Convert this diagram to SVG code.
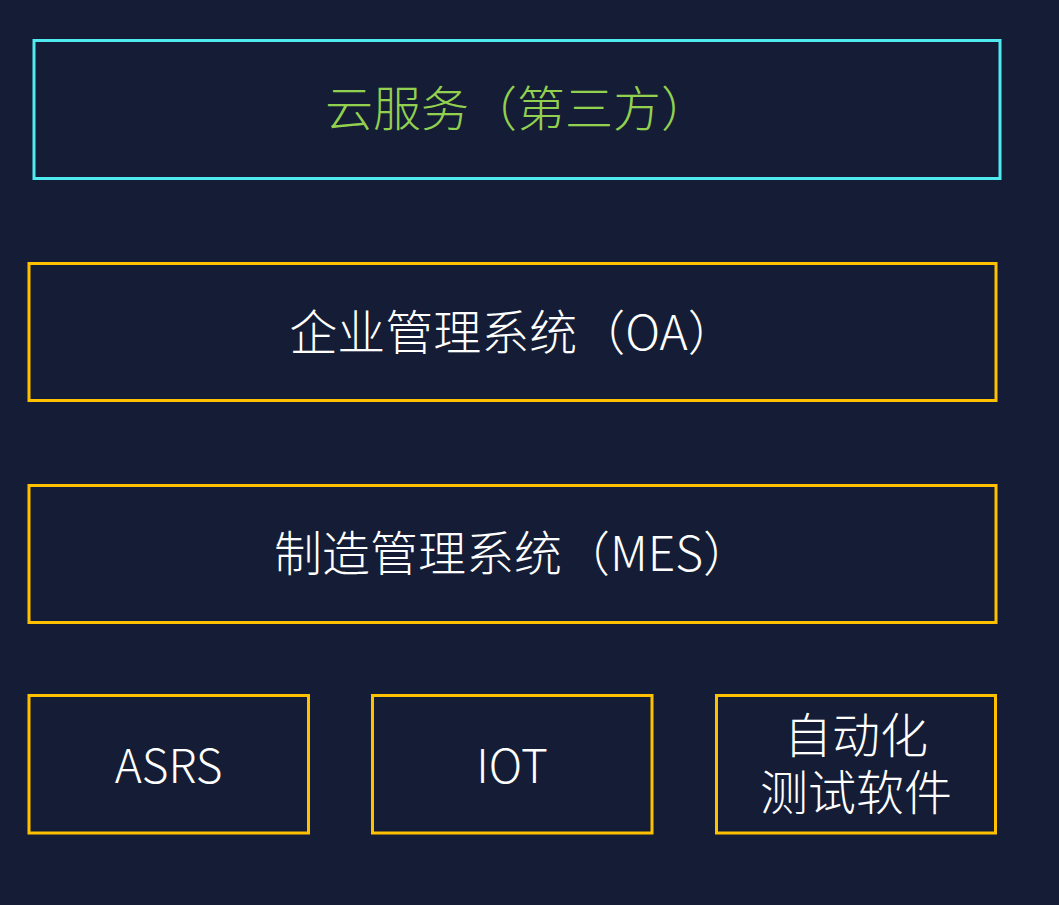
<svg xmlns="http://www.w3.org/2000/svg" width="1059" height="905" viewBox="0 0 1059 905">
  <style>
    .box { fill: #141d35; stroke-width: 3; }
    .y { stroke: #ffc000; }
    .c { stroke: #4fe9f0; }
    .t { font-family: "Noto Sans CJK SC", "Noto Sans", sans-serif; font-weight: 300; font-size: 48px; text-anchor: middle; fill: #ffffff; }
    .l { font-size: 46px; }
    .g { fill: #92d050; }
  </style>
  <rect x="0" y="0" width="1059" height="905" fill="#141d35"/>
  <g id="cloud">
    <rect class="box c" x="34" y="40.5" width="966" height="138"/>
    <text class="t g" x="517" y="126">云服务（第三方）</text>
  </g>
  <g id="oa">
    <rect class="box y" x="29" y="263.5" width="967" height="137"/>
    <text class="t" x="512.5" y="349.5">企业管理系统（OA）</text>
  </g>
  <g id="mes">
    <rect class="box y" x="29" y="485.5" width="967" height="137"/>
    <text class="t" x="512.5" y="571">制造管理系统（MES）</text>
  </g>
  <g id="asrs">
    <rect class="box y" x="29" y="695.5" width="279.5" height="137.5"/>
    <text class="t l" x="168.5" y="783">ASRS</text>
  </g>
  <g id="iot">
    <rect class="box y" x="372.5" y="695.5" width="279.5" height="137.5"/>
    <text class="t l" x="512" y="783">IOT</text>
  </g>
  <g id="autotest">
    <rect class="box y" x="716.5" y="695.5" width="279" height="137.5"/>
    <text class="t"><tspan x="856" y="752.5">自动化</tspan><tspan x="856" y="810">测试软件</tspan></text>
  </g>
  <g id="connectors"/>
</svg>
